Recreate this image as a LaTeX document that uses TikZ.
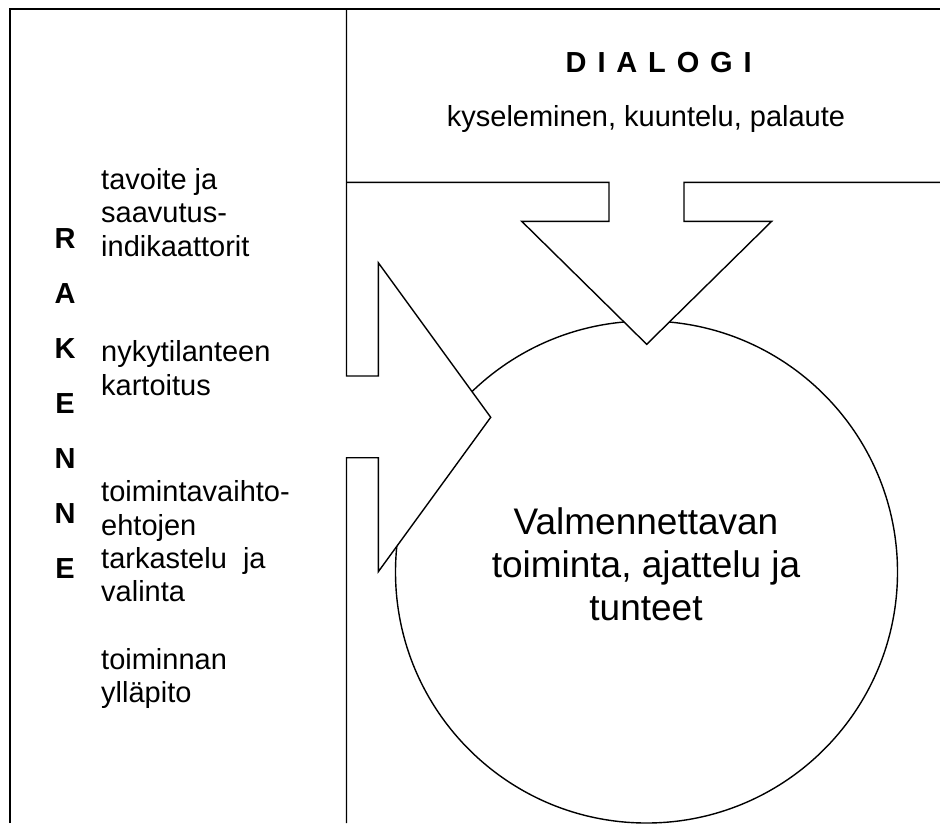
\documentclass[tikz,border=0pt]{standalone}
\usepackage{fontspec}
\setmainfont{Liberation Sans}
\begin{document}
\begin{tikzpicture}[x=1pt,y=-1pt,
  frame/.style={line width=1.9pt, black},
  outline/.style={line width=1.4pt, black, line join=miter},
  body/.style={font=\fontsize{29}{33}\selectfont, inner sep=0pt},
  head/.style={font=\fontsize{29}{33}\selectfont\bfseries, inner sep=0pt},
  big/.style={font=\fontsize{37}{43}\selectfont, inner sep=0pt}]
\useasboundingbox (0,0) rectangle (940,823);

% outer frame (top and left edges)
\draw[frame] (10,823) -- (10,9.3) -- (940,9.3);

% central circle
\draw[outline] (646.5,572) circle (251);

% left column border with the arrow pointing right
\fill[white] (346.5,376) -- (378.3,376) -- (378.3,262.7) -- (490.7,417.3)
  -- (378.3,571.7) -- (378.3,457.7) -- (346.5,457.7) -- cycle;
\draw[outline] (346.5,9.3) -- (346.5,376) -- (378.3,376) -- (378.3,262.7)
  -- (490.7,417.3) -- (378.3,571.7) -- (378.3,457.7) -- (346.5,457.7)
  -- (346.5,823);

% top band border with the arrow pointing down
\fill[white] (609,182.3) -- (609,221.3) -- (521.7,221.3) -- (646.7,344.3)
  -- (771.7,221.3) -- (684,221.3) -- (684,182.3) -- cycle;
\draw[outline] (346.5,182.3) -- (609,182.3) -- (609,221.3) -- (521.7,221.3)
  -- (646.7,344.3) -- (771.7,221.3) -- (684,221.3) -- (684,182.3)
  -- (940,182.3);

% top band texts
\node[head, anchor=base] (dialogi) at (658.7,72.7)
  {D\ \kern2.8pt I\ \kern2.8pt A\ \kern2.8pt L\ \kern2.8pt O\ \kern2.8pt G\ \kern2.8pt I};
\node[body, anchor=base] (keinot) at (646,126) {kyseleminen, kuuntelu, palaute};

% vertical word in the left column
\node[head, anchor=base] (r1) at (65,248.3) {R};
\node[head, anchor=base] (r2) at (65,303.3) {A};
\node[head, anchor=base] (r3) at (65,358.3) {K};
\node[head, anchor=base] (r4) at (65,413.3) {E};
\node[head, anchor=base] (r5) at (65,468.3) {N};
\node[head, anchor=base] (r6) at (65,523.3) {N};
\node[head, anchor=base] (r7) at (65,578.3) {E};

% phases listed in the left column
\node[body, anchor=base west] (t1) at (101,189.3) {tavoite ja};
\node[body, anchor=base west] (t2) at (101,222.7) {saavutus-};
\node[body, anchor=base west] (t3) at (101,256.1) {indikaattorit};
\node[body, anchor=base west] (n1) at (101,361.7) {nykytilanteen};
\node[body, anchor=base west] (n2) at (101,395.1) {kartoitus};
\node[body, anchor=base west] (v1) at (101,501.7) {toimintavaihto-};
\node[body, anchor=base west] (v2) at (101,535.1) {ehtojen};
\node[body, anchor=base west] (v3) at (101,568.5) {tarkastelu\ \ ja};
\node[body, anchor=base west] (v4) at (101,601.9) {valinta};
\node[body, anchor=base west] (y1) at (101,669) {toiminnan};
\node[body, anchor=base west] (y2) at (101,702.4) {ylläpito};

% text inside the circle
\node[big, anchor=base] (c1) at (646,534) {Valmennettavan};
\node[big, anchor=base] (c2) at (646,577) {toiminta, ajattelu ja};
\node[big, anchor=base] (c3) at (646,620) {tunteet};
\end{tikzpicture}
\end{document}
